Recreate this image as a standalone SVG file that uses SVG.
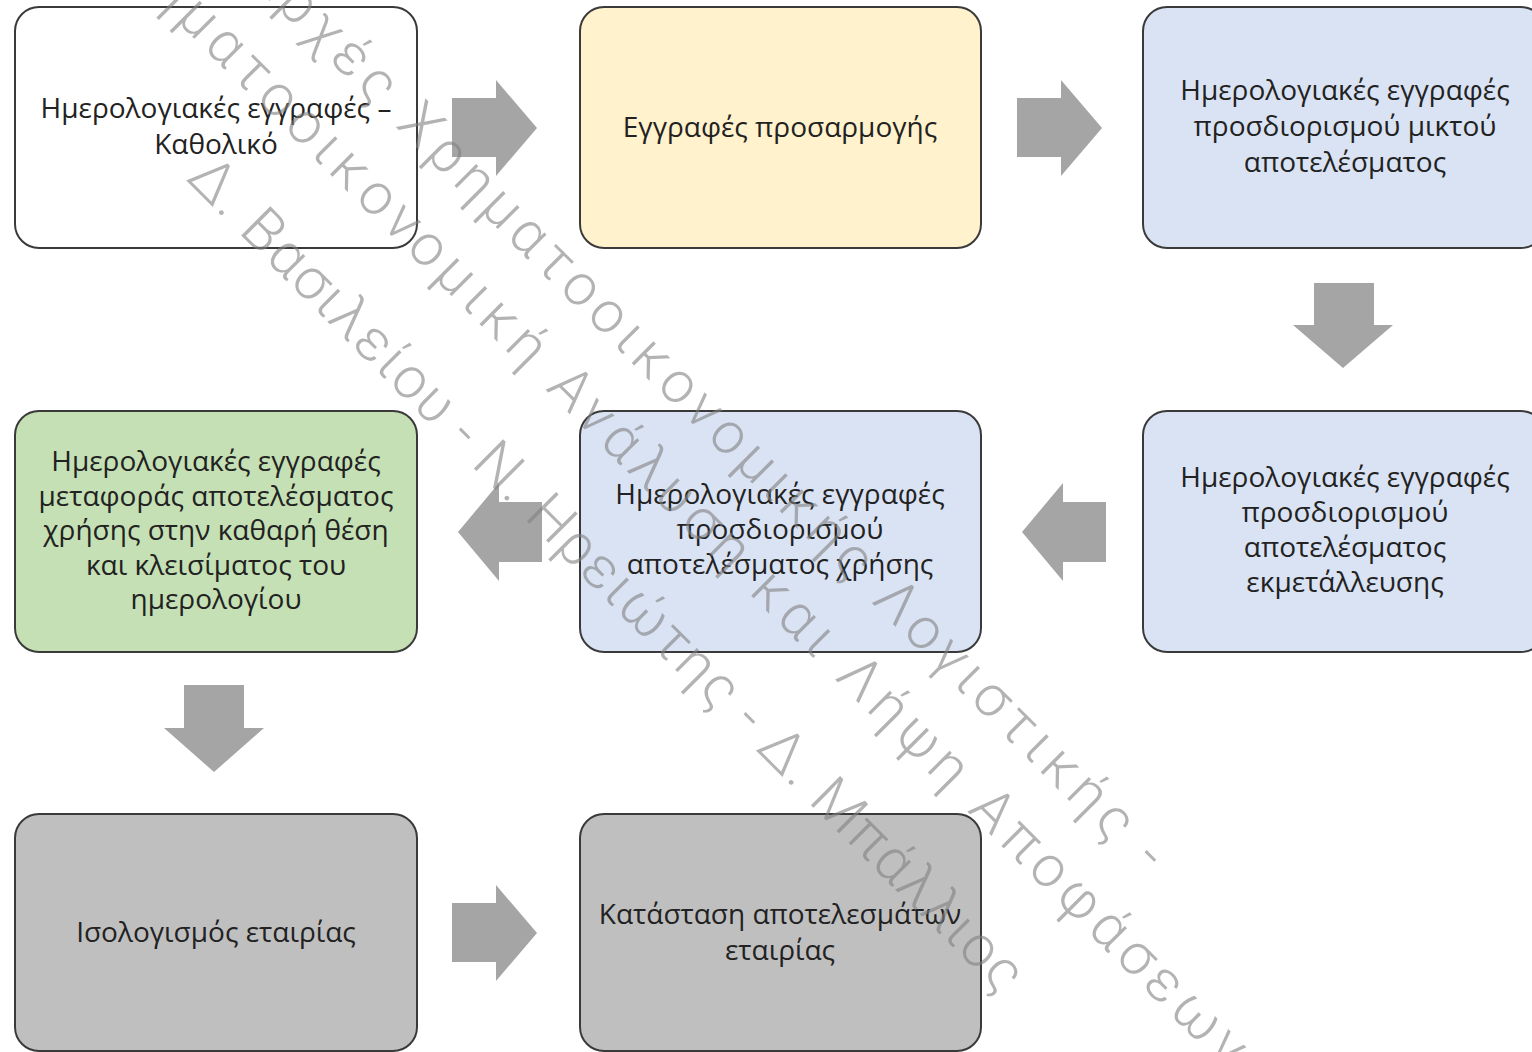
<svg xmlns="http://www.w3.org/2000/svg" width="1532" height="1052" viewBox="0 0 1532 1052">
<style>
.box{stroke:#3a3a3a;stroke-width:2}
.t{font-family:"Open Sans","DejaVu Sans",sans-serif;font-size:28px;fill:#222;text-anchor:middle}
.arr{fill:#a5a5a5}
.wm{font-family:Roboto,"Open Sans",sans-serif;font-weight:300;font-size:58px;fill:#808080;fill-opacity:0.6}
</style>
<rect width="1532" height="1052" fill="#ffffff"/>
<g id="connectors">
<path class="arr" d="M452,98 H496 V80 L537,128 L496,176 V157 H452 Z"/>
<path class="arr" d="M1017,98 H1061 V80 L1102,128 L1061,176 V157 H1017 Z"/>
<path class="arr" d="M1314,283 V325 H1293 L1343,368 L1393,325 H1374 V283 Z"/>
<path class="arr" d="M1106,502 H1063 V483 L1022,532 L1063,581 V562 H1106 Z"/>
<path class="arr" d="M542,502 H499 V483 L458,532 L499,581 V562 H542 Z"/>
<path class="arr" d="M184,685 V728 H164 L214,772 L264,728 H244 V685 Z"/>
<path class="arr" d="M452,903 H496 V885 L537,933 L496,981 V962 H452 Z"/>
</g>
<g id="n1"><rect class="box" x="15" y="7" width="402" height="241" rx="24" fill="#ffffff"/>
<text class="t" x="216" y="118">Ημερολογιακές εγγραφές –<tspan x="216" dy="36">Καθολικό</tspan></text></g>
<g id="n2"><rect class="box" x="580" y="7" width="401" height="241" rx="24" fill="#fff2cc"/>
<text class="t" x="780" y="137">Εγγραφές προσαρμογής</text></g>
<g id="n3"><rect class="box" x="1143" y="7" width="402" height="241" rx="24" fill="#dae3f3"/>
<text class="t" x="1345" y="100">Ημερολογιακές εγγραφές<tspan x="1345" dy="36">προσδιορισμού μικτού</tspan><tspan x="1345" dy="36">αποτελέσματος</tspan></text></g>
<g id="n4"><rect class="box" x="1143" y="411" width="402" height="241" rx="24" fill="#dae3f3"/>
<text class="t" x="1345" y="487">Ημερολογιακές εγγραφές<tspan x="1345" dy="35">προσδιορισμού</tspan><tspan x="1345" dy="35">αποτελέσματος</tspan><tspan x="1345" dy="35">εκμετάλλευσης</tspan></text></g>
<g id="n5"><rect class="box" x="580" y="411" width="401" height="241" rx="24" fill="#dae3f3"/>
<text class="t" x="780" y="504">Ημερολογιακές εγγραφές<tspan x="780" dy="35">προσδιορισμού</tspan><tspan x="780" dy="35">αποτελέσματος χρήσης</tspan></text></g>
<g id="n6"><rect class="box" x="15" y="411" width="402" height="241" rx="24" fill="#c5e0b4"/>
<text class="t" x="216" y="471">Ημερολογιακές εγγραφές<tspan x="216" dy="34.5">μεταφοράς αποτελέσματος</tspan><tspan x="216" dy="34.5">χρήσης στην καθαρή θέση</tspan><tspan x="216" dy="34.5">και κλεισίματος του</tspan><tspan x="216" dy="34.5">ημερολογίου</tspan></text></g>
<g id="n7"><rect class="box" x="15" y="814" width="402" height="237" rx="24" fill="#bfbfbf"/>
<text class="t" x="216" y="942">Ισολογισμός εταιρίας</text></g>
<g id="n8"><rect class="box" x="580" y="814" width="401" height="237" rx="24" fill="#bfbfbf"/>
<text class="t" x="780" y="924">Κατάσταση αποτελεσμάτων<tspan x="780" dy="36">εταιρίας</tspan></text></g>
<g id="watermark" transform="rotate(45)">
<text class="wm" x="156" y="-190" textLength="1271" lengthAdjust="spacing">Αρχές Χρηματοοικονομικής Λογιστικής -</text>
<text class="wm" x="18" y="-110" textLength="1605" lengthAdjust="spacing">Χρηματοοικονομική Ανάλυση και Λήψη Αποφάσεων</text>
<text class="wm" x="258" y="-4" textLength="1155" lengthAdjust="spacing">Δ. Βασιλείου - Ν. Ηρειώτης - Δ. Μπάλλιος</text>
</g>
</svg>
